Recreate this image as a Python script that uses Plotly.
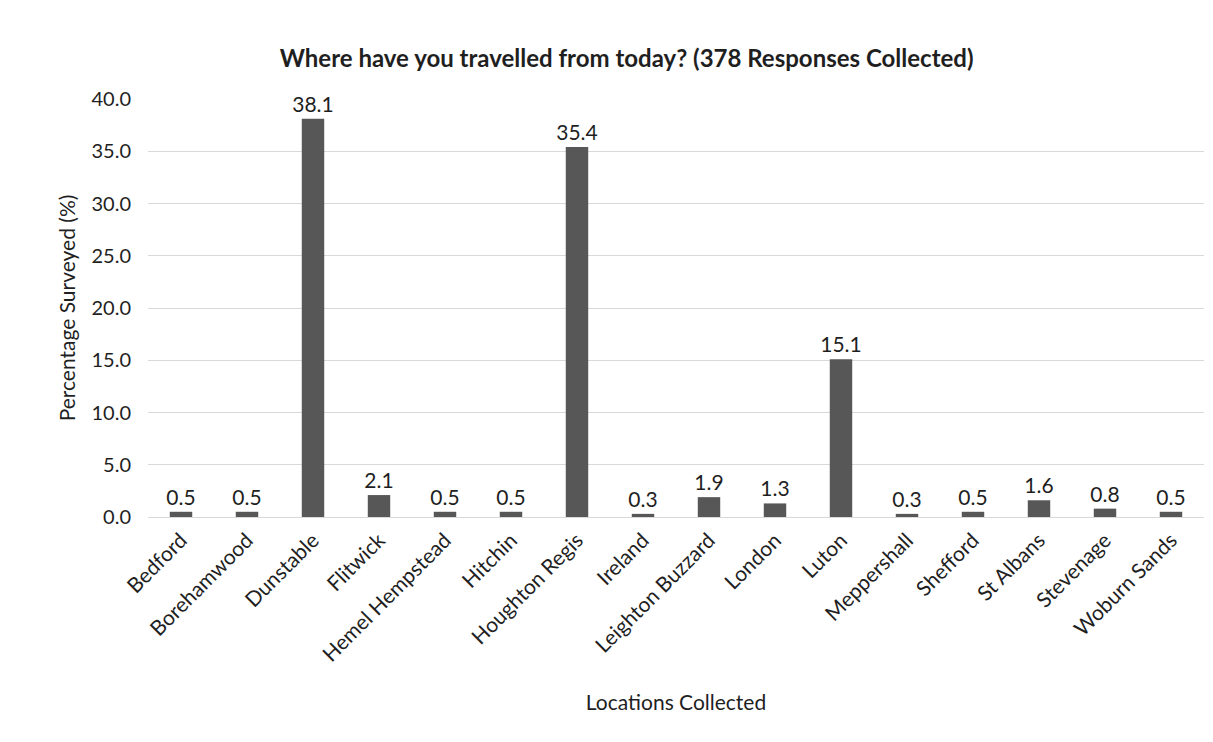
import plotly.graph_objects as go

locations = ["Bedford", "Borehamwood", "Dunstable", "Flitwick", "Hemel Hempstead",
             "Hitchin", "Houghton Regis", "Ireland", "Leighton Buzzard", "London",
             "Luton", "Meppershall", "Shefford", "St Albans", "Stevenage", "Woburn Sands"]
percentages = [0.5, 0.5, 38.1, 2.1, 0.5, 0.5, 35.4, 0.3, 1.9, 1.3, 15.1, 0.3, 0.5, 1.6, 0.8, 0.5]
y_ticks = [0, 5, 10, 15, 20, 25, 30, 35, 40]

FONT = "Lato"
INK = "#1f1f1f"

fig = go.Figure(go.Bar(
    x=locations, y=percentages,
    marker=dict(color="#575757", line=dict(width=0)),
    width=0.34,
    text=[f"{v:.1f}" for v in percentages],
    textposition="outside",
    constraintext="none",
    textfont=dict(family=FONT, size=21, color=INK),
    cliponaxis=False,
))

fig.update_layout(
    width=1213, height=742,
    paper_bgcolor="white", plot_bgcolor="white",
    margin=dict(l=140, r=17, t=91, b=233),
    showlegend=False,
    title=dict(
        text="<b>Where have you travelled from today? (378 Responses Collected)</b>",
        x=0.51, xanchor="center", xref="container",
        y=0.932, yanchor="middle", yref="container",
        font=dict(family=FONT, size=24, color=INK),
    ),
    xaxis=dict(
        range=[-0.5, 15.5], tickangle=-45,
        tickfont=dict(family=FONT, size=21, color=INK),
        ticklabelstandoff=6,
        showgrid=False, showline=False, ticks="",
        title=dict(text="Locations Collected", font=dict(family=FONT, size=21, color=INK), standoff=30),
    ),
    yaxis=dict(
        range=[0, 40], tickvals=y_ticks, tickformat=".1f",
        tickfont=dict(family=FONT, size=20, color=INK),
        ticklabelstandoff=16,
        showgrid=True, gridcolor="#d9d9d9", gridwidth=1,
        zeroline=True, zerolinecolor="#d9d9d9", zerolinewidth=1,
        showline=False, ticks="", ticklen=0,
        title=dict(text="Percentage Surveyed (%)", font=dict(family=FONT, size=21, color=INK), standoff=10),
    ),
)

fig.write_html("out.html")
